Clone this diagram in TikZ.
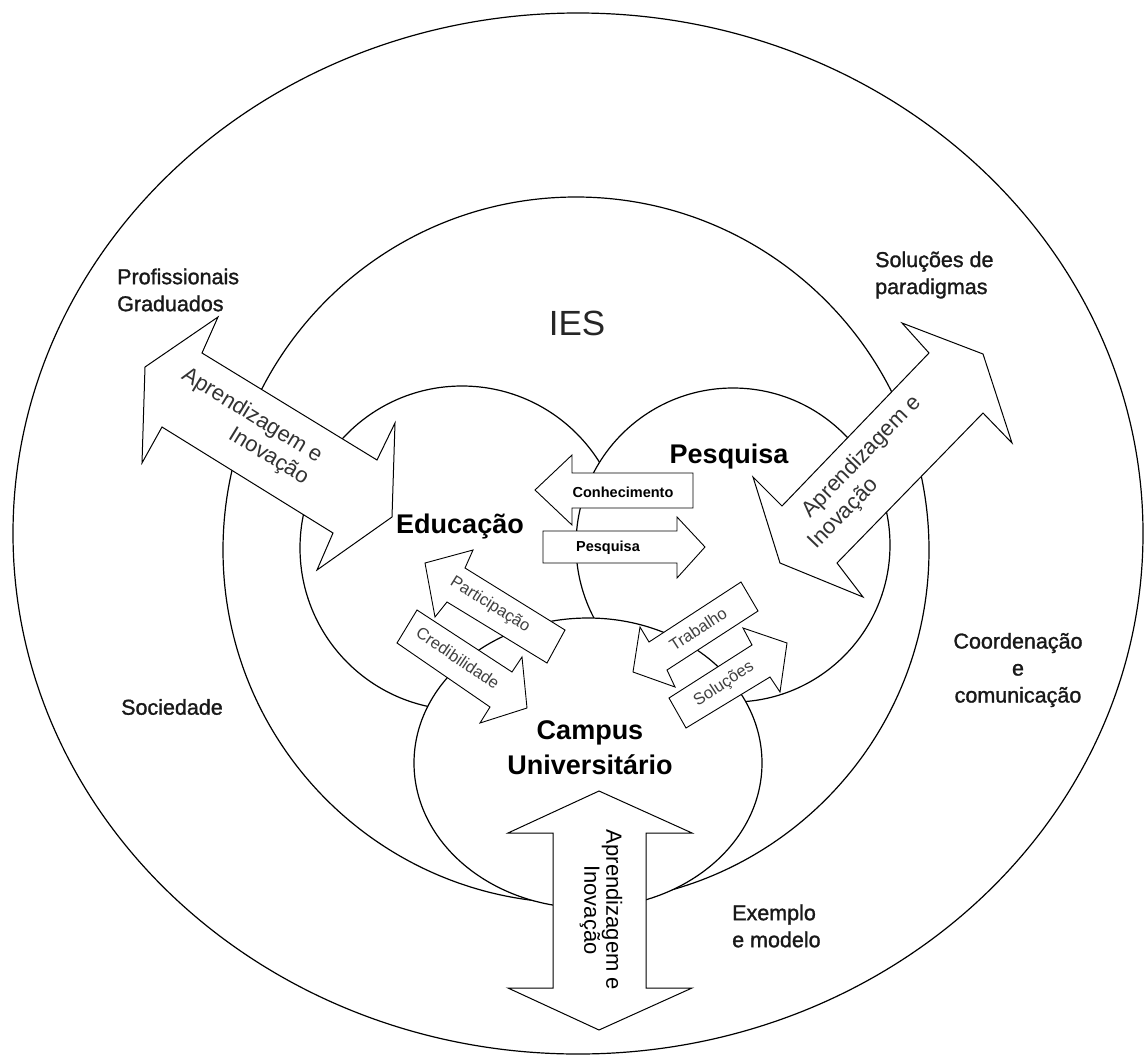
\documentclass[tikz,border=0pt]{standalone}
\usepackage{fontspec}
\setmainfont{Liberation Sans}
\newfontfamily\medfont[FakeBold=1.3]{Liberation Sans}
\begin{document}
\begin{tikzpicture}[x=1pt,y=-1pt,
  ring/.style={draw=black,line width=1.2pt},
  disc/.style={draw=black,fill=white,line width=1.2pt},
  bigarrow/.style={draw=black,fill=white,line width=1pt,line join=miter},
  smallarrow/.style={draw=black,fill=white,line width=0.9pt,line join=miter},
  lbl/.style={font=\medfont\fontsize{21.5}{27}\selectfont,text=black!90,inner sep=0pt},
  head/.style={font=\bfseries\fontsize{27}{35}\selectfont,text=black,inner sep=0pt,align=center},
  arrtxt/.style={font=\fontsize{22}{26}\selectfont,text=black!80,inner sep=0pt},
  smalltxt/.style={font=\fontsize{16.5}{20}\selectfont,text=black!75,inner sep=0pt},
  smallbold/.style={font=\bfseries\fontsize{14.5}{18}\selectfont,text=black,inner sep=0pt}
]
\useasboundingbox (0,0) rectangle (1148,1057);
\fill[white] (0,0) rectangle (1148,1057);

% rings and circles
\draw[ring] (578,533.5) ellipse [x radius=565pt, y radius=520.5pt];
\draw[ring] (576,550) circle [radius=353pt];
\draw[disc] (462,548) circle [radius=162pt];
\draw[disc] (733,545) circle [radius=157pt];
\draw[disc] (588,763) ellipse [x radius=174pt, y radius=145pt];

% left double arrow
\draw[bigarrow] (145,367) -- (218,317) -- (202,353) -- (377,460) -- (395,423)
  -- (392,517) -- (317,570) -- (333,533) -- (162,427) -- (142,463) -- cycle;
% right double arrow
\draw[bigarrow] (929,353) -- (902,323) -- (983,354) -- (1012,443) -- (983,413)
  -- (837,563) -- (863,597) -- (780,563) -- (753,477) -- (782,506) -- cycle;
% vertical double arrow
\draw[bigarrow] (599,791) -- (692,833) -- (646,833) -- (646,988) -- (692,988)
  -- (599,1030) -- (508,988) -- (553,988) -- (553,833) -- (508,833) -- cycle;

% small arrows
\draw[smallarrow] (535,490) -- (572,455) -- (572,473) -- (693,473) -- (693,508)
  -- (572,508) -- (572,525) -- cycle;
\draw[smallarrow] (543,531) -- (677,531) -- (677,517) -- (705,547) -- (677,578)
  -- (677,563) -- (543,563) -- cycle;
\draw[smallarrow] (425,563) -- (473,550) -- (465,568) -- (565,630) -- (547,663)
  -- (447,602) -- (435,617) -- cycle;
\draw[smallarrow] (417,610) -- (512,672) -- (522,657) -- (527,708) -- (480,723)
  -- (490,707) -- (397,643) -- cycle;
\draw[smallarrow] (741,582) -- (758,611) -- (667,670) -- (675,687) -- (633,672)
  -- (640,627) -- (649,642) -- cycle;
\draw[smallarrow] (669,698) -- (752,645) -- (743,628) -- (787,643) -- (780,692)
  -- (770,677) -- (686,728) -- cycle;

% outer labels
\node[lbl,anchor=west,align=left] (prof) at (117,290) {Profissionais\\Graduados};
\node[lbl,anchor=west,align=left] (solp) at (875,275) {Soluções de\\paradigmas};
\node[lbl] (soc) at (172,707) {Sociedade};
\node[lbl,align=center] (coord) at (1018,670) {Coordenação\\e\\comunicação};
\node[lbl,anchor=west,align=left] (exem) at (732,926) {Exemplo\\e modelo};
\node[font=\fontsize{35}{40}\selectfont,text=black!85,inner sep=0pt] (ies) at (577,323) {IES};

% main headings
\node[head] (edu) at (460,527) {Educação};
\node[head] (pesq) at (729,457) {Pesquisa};
\node[head] (camp) at (590,748) {Campus\\Universitário};

% big arrow texts
\node[arrtxt,rotate=-31.5,align=right] (la) at (245,427) {Aprendizagem e\\Inovação};
\node[arrtxt,rotate=46] (ra1) at (862,457) {Aprendizagem e};
\node[arrtxt,rotate=46] (ra2) at (844,514) {Inovação};
\node[arrtxt,rotate=-90,text=black,align=center,font=\fontsize{22}{22}\selectfont] (va) at (601,910) {Aprendizagem e\\Inovação};

% small arrow texts
\node[smallbold] (conh) at (623,492) {Conhecimento};
\node[smallbold] (pesqs) at (608,548) {Pesquisa};
\node[smalltxt,rotate=-32] (part) at (490,605) {Participação};
\node[smalltxt,rotate=-34] (cred) at (458,658) {Credibilidade};
\node[smalltxt,rotate=33] (trab) at (698,629) {Trabalho};
\node[smalltxt,rotate=33] (solu) at (724,684) {Soluções};
\end{tikzpicture}
\end{document}
